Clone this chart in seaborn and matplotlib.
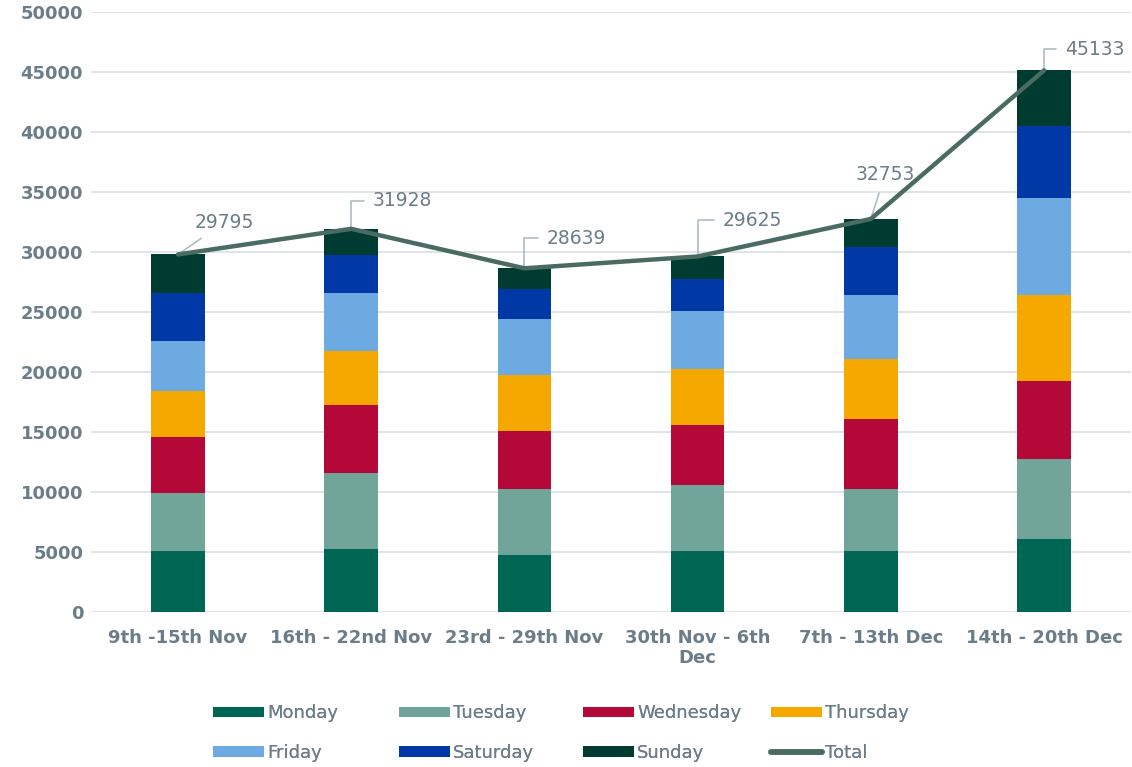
import numpy as np
import pandas as pd
import matplotlib
matplotlib.use("Agg")
import matplotlib.pyplot as plt
from matplotlib.patches import Patch
from matplotlib.lines import Line2D
import seaborn as sns

# ---- data ----
weeks = ["9th -15th Nov", "16th - 22nd Nov", "23rd - 29th Nov",
         "30th Nov - 6th\nDec", "7th - 13th Dec", "14th - 20th Dec"]
days = ["Monday", "Tuesday", "Wednesday", "Thursday", "Friday", "Saturday", "Sunday"]
monday = [5080, 5280, 4780, 5080, 5080, 6060]
tuesday = [4840, 6300, 5500, 5480, 5140, 6680]
wednesday = [4660, 5700, 4800, 5050, 5870, 6490]
thursday = [3840, 4470, 4700, 4670, 4990, 7170]
friday = [4160, 4830, 4660, 4830, 5320, 8120]
saturday = [4000, 3200, 2500, 2670, 4000, 6000]
sunday = [3215, 2148, 1699, 1845, 2353, 4613]
yticks = [0, 5000, 10000, 15000, 20000, 25000, 30000, 35000, 40000, 45000, 50000]

# ---- styles ----
colors = {"Monday": "#006654", "Tuesday": "#72a59a", "Wednesday": "#b30838",
          "Thursday": "#f4a800", "Friday": "#6eaae2", "Saturday": "#0039a6",
          "Sunday": "#003b31"}
line_color = "#4a6b62"
text_color = "#6b7d89"
grid_color = "#d9dfe3"
label_offsets = [(46, 32), (51, 28), (52, 30), (55, 36), (14, 44), (51, 21)]
label_conn = ["arc3", "angle,angleA=0,angleB=90,rad=0", "angle,angleA=0,angleB=90,rad=0",
              "angle,angleA=0,angleB=90,rad=0", "arc3", "angle,angleA=0,angleB=90,rad=0"]

sns.set_theme(style="white")
plt.rcParams["font.family"] = ["DejaVu Sans"]

series = [monday, tuesday, wednesday, thursday, friday, saturday, sunday]
df = pd.DataFrame({"week": weeks})
cum = np.zeros(len(weeks))
for d, vals in zip(days, series):
    cum = cum + np.array(vals)
    df[d] = cum
totals = df["Sunday"].tolist()

fig = plt.figure(figsize=(11.32, 7.67), dpi=100)
ax = fig.add_axes([0.0808, 0.2021, 0.918, 0.7823])

for d in reversed(days):
    sns.barplot(data=df, x="week", y=d, color=colors[d], saturation=1,
                width=0.31, ax=ax, order=weeks, linewidth=0, edgecolor="none")

xs = np.arange(len(weeks))
sns.lineplot(x=xs, y=totals, color=line_color, lw=3.2, ax=ax, zorder=5)

for i, t in enumerate(totals):
    dx, dy = label_offsets[i]
    ax.annotate(f"{int(t)}", xy=(xs[i], t), xytext=(dx, dy),
                textcoords="offset pixels", ha="center", va="center",
                fontsize=13.5, color=text_color,
                arrowprops=dict(arrowstyle="-", color="#aebcc5", lw=1.2,
                                connectionstyle=label_conn[i],
                                shrinkA=4, shrinkB=0),
                zorder=4)

ax.set_xlim(-0.5, len(weeks) - 0.5)
ax.set_ylim(0, 50000)
ax.set_yticks(yticks)
ax.set_yticklabels([str(v) for v in yticks])
ax.yaxis.grid(True, color=grid_color, lw=1.2)
ax.xaxis.grid(False)
ax.set_axisbelow(True)
for s in ax.spines.values():
    s.set_visible(False)
ax.set_xlabel("")
ax.set_ylabel("")
ax.tick_params(axis="y", length=0, pad=6, labelsize=13, labelcolor=text_color)
ax.tick_params(axis="x", length=0, pad=12, labelsize=13, labelcolor=text_color)
for lab in ax.get_xticklabels() + ax.get_yticklabels():
    lab.set_fontweight("bold")
for lab in ax.get_xticklabels():
    lab.set_multialignment("center")

handles = {d: Patch(facecolor=colors[d], edgecolor="none") for d in days}
handles["Total"] = Line2D([0], [0], color=line_color, lw=4)
columns = [["Monday", "Friday"], ["Tuesday", "Saturday"],
           ["Wednesday", "Sunday"], ["Thursday", "Total"]]
col_x = [213, 399, 583, 771]
for cx, col in zip(col_x, columns):
    leg = fig.legend([handles[k] for k in col], col, loc="center left",
                     bbox_to_anchor=(cx / 1132, (767 - 733) / 767), frameon=False,
                     fontsize=13, labelcolor=text_color, handlelength=2.8,
                     handleheight=0.5, handletextpad=0.2, labelspacing=1.2,
                     borderpad=0, borderaxespad=0)
    fig.add_artist(leg)

fig.savefig("out.png", dpi=100)
